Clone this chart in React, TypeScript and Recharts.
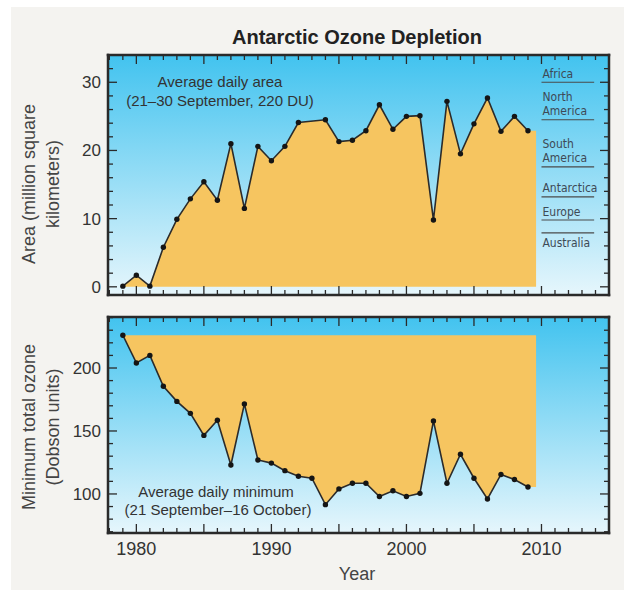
import { ComposedChart, Area, Line, XAxis, YAxis, CartesianGrid, ReferenceLine } from 'recharts'

// ozone hole area, million km² (no 1993 point in the source figure)
const areaYears = [
  1979, 1980, 1981, 1982, 1983, 1984, 1985, 1986, 1987, 1988, 1989, 1990, 1991, 1992,
  1994, 1995, 1996, 1997, 1998, 1999, 2000, 2001, 2002, 2003, 2004, 2005, 2006, 2007, 2008, 2009,
]
const areaValues = [
  0.1, 1.7, 0.1, 5.8, 9.9, 12.9, 15.4, 12.7, 21.0, 11.5, 20.6, 18.5, 20.6, 24.1,
  24.5, 21.3, 21.5, 22.9, 26.7, 23.1, 25.0, 25.1, 9.8, 27.2, 19.5, 23.9, 27.7, 22.8, 25.0, 22.9,
]

// minimum total ozone, Dobson units
const ozoneYears = [
  1979, 1980, 1981, 1982, 1983, 1984, 1985, 1986, 1987, 1988, 1989, 1990, 1991, 1992, 1993,
  1994, 1995, 1996, 1997, 1998, 1999, 2000, 2001, 2002, 2003, 2004, 2005, 2006, 2007, 2008, 2009,
]
const ozoneValues = [
  226, 204, 210, 185.5, 173.5, 164, 146.5, 158.5, 123, 171.5, 127, 124.5, 118.5, 114, 112.5,
  91.5, 104, 108.5, 108.5, 98, 102.5, 98, 100.5, 158, 108.5, 131.5, 112.5, 96, 115.5, 111.5, 105.5,
]

// the shaded band runs a little past the last measured year
const FILL_END = 2009.6

// continent areas for the scale at the right, million km²
const continents = ['Africa', 'North America', 'South America', 'Antarctica', 'Europe', 'Australia']
const continentAreas = [30, 24.5, 17.6, 13.2, 9.8, 7.9]

const X_DOMAIN = [1977.9, 2015]
const xTicks = Array.from({ length: 37 }, (_, i) => 1978 + i)
const areaTicks = Array.from({ length: 17 }, (_, i) => i * 2)
const ozoneTicks = Array.from({ length: 18 }, (_, i) => 70 + i * 10)

const FONT = '"Liberation Sans", Arial, Helvetica, sans-serif'
const NARROW = '"Liberation Sans Narrow", "DejaVu Sans Condensed", sans-serif'
const FRAME = '#2a2a2a'
const ORANGE = '#f6c560'

const areaRows = areaYears.map((year, i) => ({ year, value: areaValues[i], fill: areaValues[i] }))
areaRows.push({ year: FILL_END, value: undefined as any, fill: areaValues[areaValues.length - 1] })

const ozoneRows = ozoneYears.map((year, i) => ({ year, value: ozoneValues[i], fill: ozoneValues[i] }))
ozoneRows.push({ year: FILL_END, value: undefined as any, fill: ozoneValues[ozoneValues.length - 1] })

const axisLine = { stroke: FRAME, strokeWidth: 2.5, strokeLinecap: 'square' as const }

// ticks point into the plot; majors longer, labels only on some
function makeTick(side: string, majorEvery: number, labelEvery: number, showLabels: boolean) {
  return (props: any) => {
    const { x, y, payload } = props
    const v = payload.value
    const major = Math.abs(v % majorEvery) < 1e-6
    const len = major ? 9 : 5
    const labelled = showLabels && Math.abs(v % labelEvery) < 1e-6
    let line
    let label = null
    if (side === 'bottom') {
      line = <line x1={x} x2={x} y1={y} y2={y - len} stroke={FRAME} strokeWidth={1.3} />
      if (labelled) label = <text x={x} y={y + 22} textAnchor="middle" fontSize={18} fill="#333" fontFamily={FONT}>{v}</text>
    } else if (side === 'top') {
      line = <line x1={x} x2={x} y1={y} y2={y + len} stroke={FRAME} strokeWidth={1.3} />
    } else if (side === 'left') {
      line = <line x1={x} x2={x + len} y1={y} y2={y} stroke={FRAME} strokeWidth={1.3} />
      if (labelled) label = <text x={x - 7} y={y + 6} textAnchor="end" fontSize={17} fill="#333" fontFamily={FONT}>{v}</text>
    } else {
      line = <line x1={x} x2={x - len} y1={y} y2={y} stroke={FRAME} strokeWidth={1.3} />
    }
    return <g>{line}{label}</g>
  }
}

function ContinentLabel(props: any) {
  const { viewBox, name } = props
  const words = name === 'Antarctica' ? [name] : name.split(' ')
  const x = viewBox.x + 1
  const below = name === 'Australia'
  const y0 = below ? viewBox.y + 14 : viewBox.y - 4.5 - (words.length - 1) * 14.3
  return (
    <g>
      {words.map((w: string, i: number) => (
        <text key={w} x={x} y={y0 + i * 14.3} fontSize={12} fill="#3e4a56" fontFamily={NARROW}>{w}</text>
      ))}
    </g>
  )
}

function Gradient({ id }: { id: string }) {
  return (
    <defs>
      <linearGradient id={id} x1="0" y1="0" x2="0" y2="1">
        <stop offset="0%" stopColor="#42c3ef" />
        <stop offset="100%" stopColor="#e6f6fc" />
      </linearGradient>
    </defs>
  )
}

function AreaPanel() {
  return (
    <ComposedChart width={624} height={300} data={areaRows} margin={{ top: 54, right: 14, bottom: 4, left: 58 }}>
      <Gradient id="skyTop" />
      <CartesianGrid xAxisId="b" yAxisId="l" horizontal={false} vertical={false} fill="url(#skyTop)" />
      <XAxis xAxisId="b" dataKey="year" type="number" domain={X_DOMAIN} ticks={xTicks} interval={0}
        allowDataOverflow height={1} tickSize={0} tickMargin={0} axisLine={axisLine}
        tick={makeTick('bottom', 5, 10, false)} />
      <XAxis xAxisId="t" orientation="top" dataKey="year" type="number" domain={X_DOMAIN} ticks={xTicks}
        interval={0} allowDataOverflow height={1} tickSize={0} tickMargin={0} axisLine={axisLine}
        tick={makeTick('top', 5, 10, false)} />
      <YAxis yAxisId="l" type="number" domain={[-1.2, 34]} ticks={areaTicks} interval={0} allowDataOverflow
        width={50} tickSize={0} tickMargin={0} axisLine={axisLine} tick={makeTick('left', 10, 10, true)} />
      <YAxis yAxisId="r" orientation="right" type="number" domain={[-1.2, 34]} ticks={areaTicks} interval={0}
        allowDataOverflow width={1} tickSize={0} tickMargin={0} axisLine={axisLine} tick={makeTick('right', 10, 10, false)} />
      <Area xAxisId="b" yAxisId="l" type="linear" dataKey="fill" baseValue={0} stroke="none" fill={ORANGE}
        fillOpacity={1} isAnimationActive={false} />
      <Line xAxisId="b" yAxisId="l" type="linear" dataKey="value" stroke="#2b2b2b" strokeWidth={1.6}
        dot={{ r: 2.7, fill: '#151515', stroke: 'none' }} activeDot={false} isAnimationActive={false} />
      {continents.map((name, i) => (
        <ReferenceLine key={name} xAxisId="b" yAxisId="l"
          segment={[{ x: 2010.0, y: continentAreas[i] }, { x: 2013.9, y: continentAreas[i] }]}
          stroke="#4a4a4a" strokeWidth={1.2}
          label={(p: any) => <ContinentLabel {...p} name={name} />} />
      ))}
      <text x={220} y={87} textAnchor="middle" fontSize={15} fill="#333" fontFamily={FONT}>Average daily area</text>
      <text x={220} y={106} textAnchor="middle" fontSize={15} fill="#333" fontFamily={FONT}>(21–30 September, 220 DU)</text>
    </ComposedChart>
  )
}

function OzonePanel() {
  return (
    <ComposedChart width={624} height={293} data={ozoneRows} margin={{ top: 16, right: 14, bottom: 0, left: 58 }}>
      <Gradient id="skyBottom" />
      <CartesianGrid xAxisId="b" yAxisId="l" horizontal={false} vertical={false} fill="url(#skyBottom)" />
      <XAxis xAxisId="b" dataKey="year" type="number" domain={X_DOMAIN} ticks={xTicks} interval={0}
        allowDataOverflow height={60} tickSize={0} tickMargin={0} axisLine={axisLine}
        tick={makeTick('bottom', 5, 10, true)} />
      <XAxis xAxisId="t" orientation="top" dataKey="year" type="number" domain={X_DOMAIN} ticks={xTicks}
        interval={0} allowDataOverflow height={1} tickSize={0} tickMargin={0} axisLine={axisLine}
        tick={makeTick('top', 5, 10, false)} />
      <YAxis yAxisId="l" type="number" domain={[69, 240.5]} ticks={ozoneTicks} interval={0} allowDataOverflow
        width={50} tickSize={0} tickMargin={0} axisLine={axisLine} tick={makeTick('left', 50, 50, true)} />
      <YAxis yAxisId="r" orientation="right" type="number" domain={[69, 240.5]} ticks={ozoneTicks} interval={0}
        allowDataOverflow width={1} tickSize={0} tickMargin={0} axisLine={axisLine} tick={makeTick('right', 50, 50, false)} />
      <Area xAxisId="b" yAxisId="l" type="linear" dataKey="fill" baseValue={ozoneValues[0]} stroke="none"
        fill={ORANGE} fillOpacity={1} isAnimationActive={false} />
      <Line xAxisId="b" yAxisId="l" type="linear" dataKey="value" stroke="#2b2b2b" strokeWidth={1.6}
        dot={{ r: 2.7, fill: '#151515', stroke: 'none' }} activeDot={false} isAnimationActive={false} />
      <text x={216} y={197} textAnchor="middle" fontSize={15} fill="#333" fontFamily={FONT}>Average daily minimum</text>
      <text x={218} y={215} textAnchor="middle" fontSize={15} fill="#333" fontFamily={FONT}>(21 September–16 October)</text>
    </ComposedChart>
  )
}

export default function App() {
  return (
    <div style={{ position: 'absolute', left: 0, top: 0, width: 624, height: 593, background: '#fff', overflow: 'hidden' }}>
      <div style={{ position: 'absolute', left: 11, top: 7, width: 613, height: 583, background: '#f4f3f0' }} />
      <div style={{ position: 'absolute', left: 0, top: 0 }}>
        <AreaPanel />
      </div>
      <div style={{ position: 'absolute', left: 0, top: 300 }}>
        <OzonePanel />
      </div>
      <svg width={624} height={593} style={{ position: 'absolute', left: 0, top: 0, pointerEvents: 'none' }}>
        <text x={357} y={44} textAnchor="middle" fontSize={20} fontWeight="bold" fill="#222" fontFamily={FONT}>
          Antarctic Ozone Depletion
        </text>
        <g fontSize={18} fill="#444" fontFamily={FONT} textAnchor="middle">
          <text transform="translate(35,184) rotate(-90)">Area (million square</text>
          <text transform="translate(59,184) rotate(-90)">kilometers)</text>
          <text transform="translate(35,427) rotate(-90)">Minimum total ozone</text>
          <text transform="translate(59,427) rotate(-90)">(Dobson units)</text>
          <text x={357} y={580}>Year</text>
        </g>
      </svg>
    </div>
  )
}
